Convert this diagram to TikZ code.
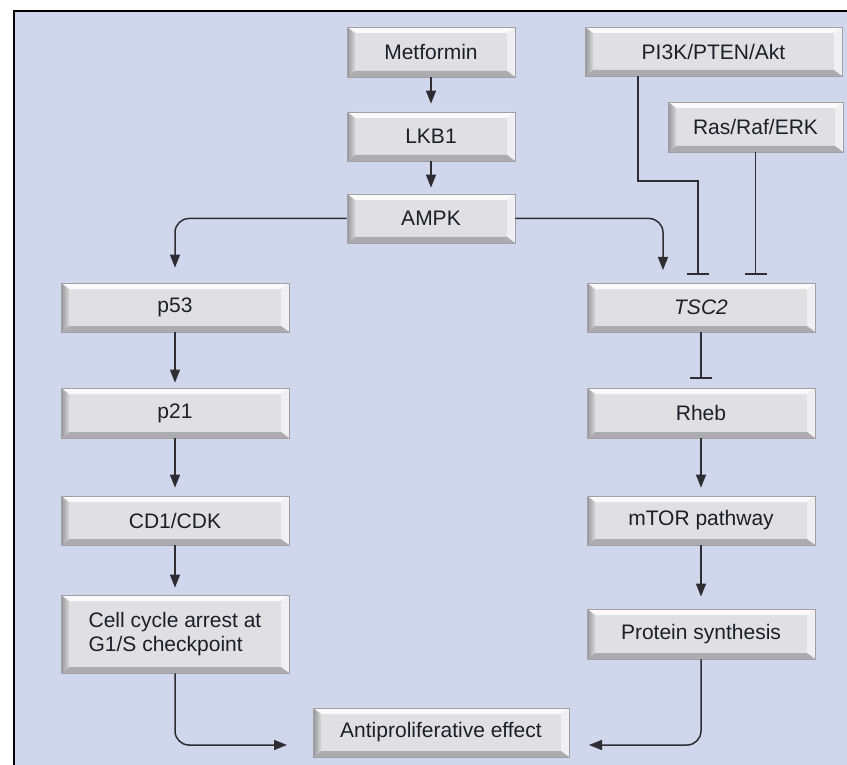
\documentclass[tikz,border=0pt]{standalone}
\usepackage{fontspec}
\newfontfamily\lsans{Liberation Sans}
\usetikzlibrary{arrows.meta,calc}
\definecolor{bg}{RGB}{208,214,235}
\definecolor{face}{RGB}{224,224,226}
\definecolor{bord}{RGB}{160,160,164}
\definecolor{bevtop}{RGB}{250,250,250}
\definecolor{bevright}{RGB}{240,240,242}
\definecolor{bevbot}{RGB}{172,172,176}
\definecolor{bevlo}{RGB}{150,150,154}
\definecolor{bevli}{RGB}{215,215,218}
\definecolor{txt}{RGB}{30,30,42}
\definecolor{ln}{RGB}{45,45,50}
\tikzset{
  btn/.style={draw=bord, line width=0.8pt, fill=face, inner sep=0pt, text=txt,
    font=\lsans\fontsize{21}{24}\selectfont,
    path picture={
      \path (path picture bounding box.north west) coordinate (bbnw)
            (path picture bounding box.north east) coordinate (bbne)
            (path picture bounding box.south west) coordinate (bbsw)
            (path picture bounding box.south east) coordinate (bbse);
      \fill[bevtop] (bbnw) -- (bbne) -- ([shift={(-8pt,-6pt)}]bbne) -- ([shift={(8pt,-6pt)}]bbnw) -- cycle;
      \fill[bevright] (bbne) -- (bbse) -- ([shift={(-8pt,6pt)}]bbse) -- ([shift={(-8pt,-6pt)}]bbne) -- cycle;
      \fill[bevbot] (bbsw) -- (bbse) -- ([shift={(-8pt,6pt)}]bbse) -- ([shift={(8pt,6pt)}]bbsw) -- cycle;
      \shade[left color=bevlo, right color=bevli] (bbnw) -- (bbsw) -- ([shift={(8pt,6pt)}]bbsw) -- ([shift={(8pt,-6pt)}]bbnw) -- cycle;
    }},
  arr/.style={draw=ln, line width=1.5pt, -{Triangle[length=13pt,width=10pt]}},
  inh/.style={draw=ln, line width=1.5pt, -{Bar[width=22pt,line width=2pt]}}
}
\begin{document}
\begin{tikzpicture}[x=1pt,y=1pt]
\useasboundingbox (0,0) rectangle (847,-765);
\fill[white] (0,0) rectangle (847,-765);
\fill[bg] (14,-11) rectangle (847,-765);
\draw[black, line width=2pt] (14,-765) -- (14,-11) -- (847,-11);

\node[btn, minimum width=168pt, minimum height=50pt] (met) at (431,-52) {Metformin};
\node[btn, minimum width=168pt, minimum height=49pt] (lkb) at (431,-136.5) {LKB1};
\node[btn, minimum width=168pt, minimum height=49pt] (ampk) at (431,-218.5) {AMPK};
\node[btn, minimum width=257pt, minimum height=49pt] (pi) at (713.5,-51.5) {PI3K/PTEN/Akt};
\node[btn, minimum width=175pt, minimum height=50pt] (ras) at (755.5,-127) {Ras/Raf/ERK};
\node[btn, minimum width=228pt, minimum height=49pt] (p53) at (175,-307.5) {p53};
\node[btn, minimum width=228pt, minimum height=49pt] (tsc) at (701,-307.5) {\itshape TSC2};
\node[btn, minimum width=228pt, minimum height=50pt] (p21) at (175,-413) {p21};
\node[btn, minimum width=228pt, minimum height=50pt] (rheb) at (701,-413) {Rheb};
\node[btn, minimum width=228pt, minimum height=49pt] (cd1) at (175,-520.5) {CD1/CDK};
\node[btn, minimum width=228pt, minimum height=49pt] (mtor) at (701,-520.5) {mTOR pathway};
\node[btn, minimum width=228pt, minimum height=78pt, align=left] (cell) at (175,-634) {Cell cycle arrest at\\G1/S checkpoint};
\node[btn, minimum width=228pt, minimum height=50pt] (prot) at (701,-634) {Protein synthesis};
\node[btn, minimum width=256pt, minimum height=49pt] (anti) at (441,-732.5) {Antiproliferative effect};

\coordinate (tscin) at (663,-283);
\coordinate (pib) at ([xshift=-75.5pt]pi.south);
\coordinate (pk) at (698,-181);
\coordinate (pe) at (698,-275);
\coordinate (al) at (287,-745);
\coordinate (ar) at (589,-745);

\draw[arr, shorten >=8pt] (met) -- (lkb);
\draw[arr, shorten >=6pt] (lkb) -- (ampk);
\draw[arr, rounded corners=14pt, shorten >=15pt] (ampk.west) -| (p53.north);
\draw[arr, rounded corners=14pt, shorten >=13pt] (ampk.east) -| (tscin);
\draw[inh] (pib) |- (pk) -- (pe);
\draw[inh] (ras.south) -- (ras.south |- pe);
\draw[arr, shorten >=5pt] (p53) -- (p21);
\draw[arr, shorten >=8pt] (p21) -- (cd1);
\draw[arr, shorten >=7pt] (cd1) -- (cell);
\draw[inh, shorten >=9pt] (tsc) -- (rheb);
\draw[arr, shorten >=8pt] (rheb) -- (mtor);
\draw[arr, shorten >=12pt] (mtor) -- (prot);
\draw[arr, rounded corners=14pt] (cell.south) |- (al);
\draw[arr, rounded corners=14pt] (prot.south) |- (ar);
\end{tikzpicture}
\end{document}
